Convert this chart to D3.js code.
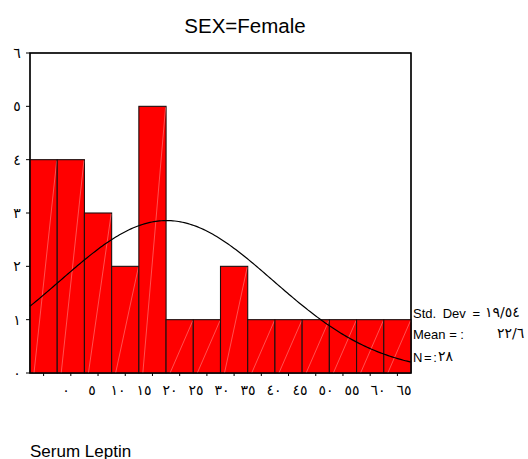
<!DOCTYPE html>
<html>
<head>
<meta charset="utf-8">
<script src="https://cdn.jsdelivr.net/npm/d3@7/dist/d3.min.js"></script>
<style>
  html, body { margin: 0; padding: 0; background: #fff; }
  svg { display: block; }
</style>
</head>
<body>
<svg id="chart" width="528" height="459"></svg>
<script>
// ---- data ----
const binCenters = [0, 5, 10, 15, 20, 25, 30, 35, 40, 45, 50, 55, 60, 65];
const counts     = [4, 4, 3, 2, 5, 1, 1, 2, 1, 1, 1, 1, 1, 1];
const xTickLabels = ["٠", "٥", "١٠", "١٥", "٢٠", "٢٥", "٣٠", "٣٥", "٤٠", "٤٥", "٥٠", "٥٥", "٦٠", "٦٥"];
const yTickValues = [0, 1, 2, 3, 4, 5, 6];
const yTickLabels = ["٠", "١", "٢", "٣", "٤", "٥", "٦"];
const binWidth = 5;
const statMean = 22.6;
const statSd = 19.54;
const statN = 28;
const statLabels = ["Std. Dev = ", "Mean = : ", "N = :"];
const statValues = ["١٩/٥٤", "٢٢/٦", "٢٨"];
const titleText = "SEX=Female";
const xTitle = "Serum Leptin";

// ---- layout ----
const svg = d3.select("#chart");
const L = 30, R = 411, T = 53, B = 373;

const x = d3.scaleLinear().domain([binCenters[0] - binWidth / 2, binCenters[binCenters.length - 1] + binWidth / 2]).range([L, R]);
const y = d3.scaleLinear().domain([0, 6]).range([B, T]);
const xLab = d3.scalePoint().domain(xTickLabels).range([66, 404]);

// title
svg.append("text").attr("x", 245).attr("y", 33)
  .attr("text-anchor", "middle")
  .style("font-family", "Arial, 'Liberation Sans', sans-serif")
  .style("font-size", "20.5px").attr("fill", "#000").text(titleText);

// frame
svg.append("rect").attr("x", L).attr("y", T).attr("width", R - L).attr("height", B - T)
  .attr("fill", "#fff").attr("stroke", "#000").attr("stroke-width", 1.2);

// bars
const bars = svg.append("g");
binCenters.forEach((c, i) => {
  const x0 = x(c - binWidth / 2), x1 = x(c + binWidth / 2);
  const y1 = y(counts[i]);
  bars.append("rect").attr("x", x0).attr("y", y1).attr("width", x1 - x0).attr("height", B - y1)
    .attr("fill", "#ff0000").attr("stroke", "#1e1010").attr("stroke-width", 1.1);
  bars.append("line").attr("x1", x0 + 4).attr("y1", B).attr("x2", x1 - 0.5).attr("y2", y1 + 1)
    .attr("stroke", "#ffa0a0").attr("stroke-width", 0.5);
});

// normal curve
const dom = x.domain();
const pts = d3.range(0, 201).map(k => {
  const v = dom[0] + (dom[1] - dom[0]) * k / 200;
  const z = (v - statMean) / statSd;
  const d = statN * binWidth / (statSd * Math.sqrt(2 * Math.PI)) * Math.exp(-0.5 * z * z);
  return [v, d];
});
svg.append("path").datum(pts)
  .attr("d", d3.line().x(d => x(d[0])).y(d => y(d[1])))
  .attr("fill", "none").attr("stroke", "#000").attr("stroke-width", 1.2);

// re-draw frame outline on top
svg.append("rect").attr("x", L).attr("y", T).attr("width", R - L).attr("height", B - T)
  .attr("fill", "none").attr("stroke", "#000").attr("stroke-width", 1.2);

// y axis ticks & labels
const yg = svg.append("g");
yTickValues.forEach((v, i) => {
  yg.append("line").attr("x1", L - 4).attr("x2", L).attr("y1", y(v)).attr("y2", y(v))
    .attr("stroke", "#000").attr("stroke-width", 1);
  yg.append("text").attr("x", 17).attr("y", y(v) + 5)
    .attr("text-anchor", "middle")
    .style("font-family", "'DejaVu Sans', sans-serif").style("font-size", "14px")
    .attr("fill", "#000").text(yTickLabels[i]);
});

// x ticks
const xg = svg.append("g");
binCenters.forEach(c => {
  xg.append("line").attr("x1", x(c)).attr("x2", x(c)).attr("y1", B).attr("y2", B + 3)
    .attr("stroke", "#000").attr("stroke-width", 1);
});
xTickLabels.forEach(t => {
  xg.append("text").attr("x", xLab(t)).attr("y", 395)
    .attr("text-anchor", "middle").attr("direction", "ltr")
    .style("font-family", "'DejaVu Sans', sans-serif").style("font-size", "14px")
    .attr("fill", "#000").text(t);
});

// stats
const statY = [318, 339, 362];
const valX = [485, 497, 438];
const wordSp = ["3px", "0px", "-2px"];
statLabels.forEach((s, i) => {
  svg.append("text").attr("x", 413).attr("y", statY[i])
    .style("font-family", "Arial, 'Liberation Sans', sans-serif").style("font-size", "13px")
    .style("word-spacing", wordSp[i])
    .attr("fill", "#000").text(s);
  svg.append("text").attr("x", valX[i]).attr("y", statY[i] - 1).attr("direction", "ltr")
    .style("font-family", "'DejaVu Sans', sans-serif").style("font-size", "14px")
    .attr("fill", "#000").text(statValues[i]);
});

// x title
svg.append("text").attr("x", 30).attr("y", 457)
  .style("font-family", "Arial, 'Liberation Sans', sans-serif").style("font-size", "17px")
  .attr("fill", "#000").text(xTitle);
</script>
</body>
</html>
